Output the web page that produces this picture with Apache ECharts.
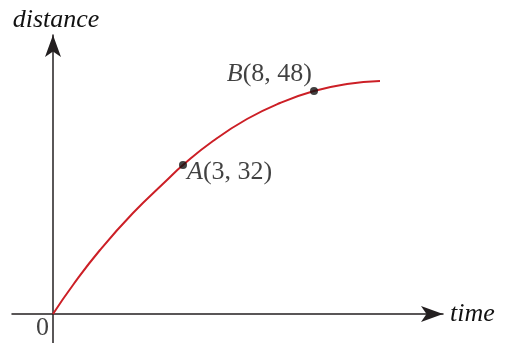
<!DOCTYPE html>
<html>
<head>
<meta charset="utf-8">
<script src="https://cdn.jsdelivr.net/npm/echarts@6/dist/echarts.min.js"></script>
<style>
  html, body { margin: 0; padding: 0; background: #fff; }
  #chart { width: 505px; height: 343px; }
</style>
</head>
<body>
<div id="chart"></div>
<script>
// sketch is not to scale, so the curve is kept in drawing units read off the picture
const curveX = [0, 20, 47, 80, 114, 130, 160, 194, 227, 261, 294, 327]
const curveY = [0, 29, 64, 101, 134, 149, 173, 195, 211, 223, 230, 233]

const pointNames = ['A', 'B']
const pointLabels = ['(3, 32)', '(8, 48)']
const pointX = [130, 261]
const pointY = [149, 223]

const INK = '#111'
const RED = '#cc1f26'
const SERIF = '"Liberation Serif", "DejaVu Serif", serif'

const chart = echarts.init(document.getElementById('chart'))

chart.setOption({
  animation: false,
  grid: { left: 12, right: 62, top: 35, bottom: 0 },
  xAxis: {
    type: 'value',
    min: -41,
    max: 390,
    name: 'time',
    nameLocation: 'end',
    nameGap: 7,
    nameTextStyle: { fontFamily: SERIF, fontStyle: 'italic', fontSize: 26, color: INK, padding: [0, 0, 6, 0] },
    axisLine: {
      onZero: true,
      symbol: ['none', 'arrow'],
      symbolSize: [12, 22],
      lineStyle: { color: '#231f20', width: 1.5 },
    },
    axisTick: { show: false },
    axisLabel: { show: false },
    splitLine: { show: false },
  },
  yAxis: {
    type: 'value',
    min: -29,
    max: 279,
    name: 'distance',
    nameLocation: 'end',
    nameGap: 2,
    nameTextStyle: { fontFamily: SERIF, fontStyle: 'italic', fontSize: 26, color: INK, padding: [0, 0, 0, 6] },
    axisLine: {
      onZero: true,
      symbol: ['none', 'arrow'],
      symbolSize: [12, 22],
      lineStyle: { color: '#231f20', width: 1.5 },
    },
    axisTick: { show: false },
    axisLabel: { show: false },
    splitLine: { show: false },
  },
  series: [
    {
      type: 'line',
      data: curveX.map((x, i) => [x, curveY[i]]),
      smooth: 0.5,
      showSymbol: false,
      lineStyle: { color: RED, width: 2 },
      z: 3,
    },
    {
      type: 'scatter',
      data: pointX.map((x, i) => ({
        value: [x, pointY[i]],
        label: i === 0
          ? { position: 'right', distance: 0, offset: [0, 7] }
          : { position: 'left', distance: 0, offset: [2, -17] },
      })),
      symbolSize: 8,
      itemStyle: { color: INK },
      label: {
        show: true,
        color: INK,
        fontFamily: SERIF,
        fontSize: 26,
        formatter: (p) => '{i|' + pointNames[p.dataIndex] + '}' + pointLabels[p.dataIndex],
        rich: {
          i: { fontFamily: SERIF, fontStyle: 'italic', fontSize: 26, color: INK },
        },
      },
      z: 4,
    },
    {
      type: 'scatter',
      data: [[0, 0]],
      symbolSize: 0,
      label: {
        show: true,
        formatter: '0',
        position: 'left',
        distance: 0,
        offset: [-4, 14],
        color: INK,
        fontFamily: SERIF,
        fontSize: 26,
      },
      z: 4,
    },
  ],
})
</script>
</body>
</html>
